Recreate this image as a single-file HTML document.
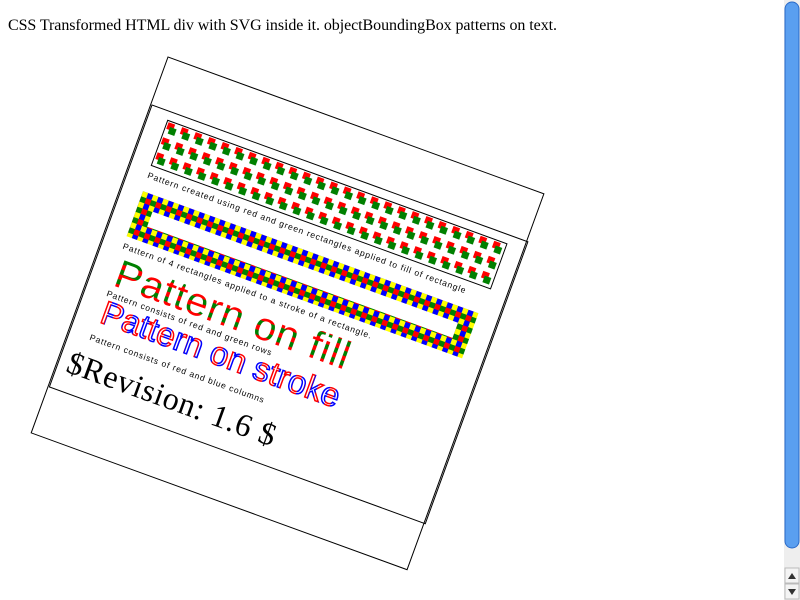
<!DOCTYPE html>
<html><head><meta charset="utf-8"><style>
html,body{margin:0;padding:0;background:#fff;overflow:hidden}
</style></head><body>
<svg width="800" height="600" xmlns="http://www.w3.org/2000/svg" style="position:absolute;left:0;top:0">
<defs>
<pattern id="rg" patternUnits="userSpaceOnUse" x="20" y="9" width="14.44" height="16">
<rect x="1.5" y="1.5" width="7" height="7" fill="red"/>
<rect x="4.5" y="5.5" width="7" height="7" fill="green"/>
</pattern>
<pattern id="four" patternUnits="userSpaceOnUse" x="21" y="84" width="11" height="11">
<rect x="0" y="0" width="5.5" height="5.5" fill="yellow"/>
<rect x="5.5" y="0" width="5.5" height="5.5" fill="blue"/>
<rect x="0" y="5.5" width="5.5" height="5.5" fill="green"/>
<rect x="5.5" y="5.5" width="5.5" height="5.5" fill="red"/>
</pattern>
<pattern id="rows" patternUnits="userSpaceOnUse" x="0" y="0" width="20" height="10">
<rect width="20" height="5" fill="red"/>
<rect y="5" width="20" height="5" fill="green"/>
</pattern>
<pattern id="cols" patternUnits="userSpaceOnUse" x="0" y="0" width="12" height="20">
<rect width="6" height="20" fill="red"/>
<rect x="6" width="6" height="20" fill="blue"/>
</pattern>
<clipPath id="cl"><rect x="0" y="0" width="400" height="300"/></clipPath>
</defs>
<text x="8" y="30" font-family="Liberation Serif, serif" font-size="16" textLength="549">CSS Transformed HTML div with SVG inside it. objectBoundingBox patterns on text.</text>
<g transform="translate(168,57) rotate(20)">
<rect x="0" y="0" width="400" height="400" fill="#fff" stroke="#000" stroke-width="1"/>
</g>
<g transform="translate(152,105) rotate(20)">
<rect x="0" y="0" width="400" height="300" fill="none" stroke="#000" stroke-width="1"/>
<g clip-path="url(#cl)">
<rect x="20" y="9" width="361" height="48" fill="url(#rg)" stroke="#000" stroke-width="1"/>
<text x="20" y="70" font-family="Liberation Sans, sans-serif" font-size="8.5" textLength="338">Pattern created using red and green rectangles applied to fill of rectangle</text>
<rect x="29" y="92" width="341" height="32" fill="none" stroke="url(#four)" stroke-width="16"/>
<text x="21" y="145" font-family="Liberation Sans, sans-serif" font-size="8.5" textLength="264">Pattern of 4 rectangles applied to a stroke of a rectangle.</text>
<text x="24" y="183" font-family="Liberation Sans, sans-serif" font-size="40" fill="url(#rows)" textLength="247">Pattern on fill</text>
<text x="22" y="195" font-family="Liberation Sans, sans-serif" font-size="8.5" textLength="175">Pattern consists of red and green rows</text>
<text x="24" y="222" font-family="Liberation Sans, sans-serif" font-size="33" fill="none" stroke="url(#cols)" stroke-width="1.5" textLength="252">Pattern on stroke</text>
<text x="21" y="242" font-family="Liberation Sans, sans-serif" font-size="8.5" textLength="185">Pattern consists of red and blue columns</text>
<text x="9" y="280" font-family="Liberation Serif, serif" font-size="32" textLength="220">$Revision: 1.6 $</text>
</g>
</g>
<rect x="784" y="0" width="16" height="600" fill="#eee"/>
<rect x="785" y="2" width="14" height="546" rx="7" fill="#5a9ff0" stroke="#2a6ac8"/>
<rect x="785" y="568" width="14" height="15" fill="#f4f4f4" stroke="#bbb"/>
<rect x="785" y="584" width="14" height="15" fill="#f4f4f4" stroke="#bbb"/>
<path d="M788 579 L792 573 L796 579Z M788 589 L792 595 L796 589Z" fill="#333"/>
</svg>
</body></html>
